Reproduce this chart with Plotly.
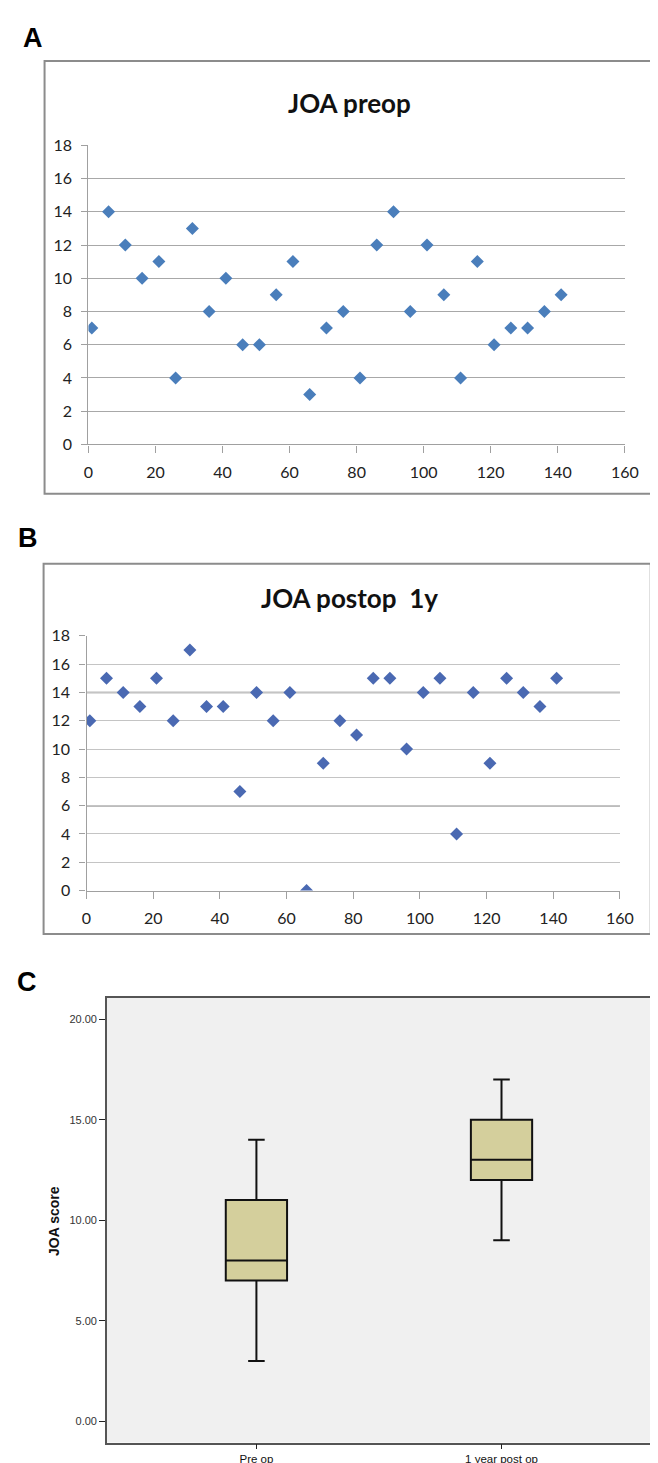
import plotly.graph_objects as go

W, H = 658, 1463

# ---- data ----
patient_x = [1, 6, 11, 16, 21, 26, 31, 36, 41, 46, 51, 56, 61, 66, 71,
             76, 81, 86, 91, 96, 101, 106, 111, 116, 121, 126, 131, 136, 141]
joa_preop = [7, 14, 12, 10, 11, 4, 13, 8, 10, 6, 6, 9, 11, 3, 7,
             8, 4, 12, 14, 8, 12, 9, 4, 11, 6, 7, 7, 8, 9]
joa_postop = [12, 15, 14, 13, 15, 12, 17, 13, 13, 7, 14, 12, 14, 0, 9,
              12, 11, 15, 15, 10, 14, 15, 4, 14, 9, 15, 14, 13, 15]
box_categories = ["Pre op", "1 year post op"]
scatter_x_ticks = [0, 20, 40, 60, 80, 100, 120, 140, 160]
scatter_y_ticks = [0, 2, 4, 6, 8, 10, 12, 14, 16, 18]
box_y_ticks = [0, 5, 10, 15, 20]


def px(x):
    return x / W


def py(y):
    return 1 - y / H


fig = go.Figure()

# Panel A scatter
fig.add_trace(go.Scatter(
    x=patient_x, y=joa_preop, mode="markers", xaxis="x", yaxis="y",
    marker=dict(symbol="diamond", size=10, color="#4A7EBB", line=dict(width=0)),
    showlegend=False))

# Panel B scatter
fig.add_trace(go.Scatter(
    x=patient_x, y=joa_postop, mode="markers", xaxis="x2", yaxis="y2",
    marker=dict(symbol="diamond", size=10, color="#4A69B2", line=dict(width=0)),
    showlegend=False))

# Panel C boxes (Tukey whiskers, outlier points hidden)
for cat, vals in zip(box_categories, [joa_preop, joa_postop]):
    fig.add_trace(go.Box(
        x=[cat] * len(vals), y=vals, xaxis="x3", yaxis="y3",
        boxpoints="outliers", marker=dict(opacity=0, size=1),
        width=0.25, whiskerwidth=0.27,
        fillcolor="#D4CF9C", line=dict(color="#111111", width=2),
        quartilemethod="inclusive", showlegend=False, hoverinfo="skip"))

excel_font = dict(family="Lato, Open Sans, sans-serif", size=16, color="#222222")
spss_font = dict(family="Liberation Sans Narrow, Arial Narrow, Liberation Sans, Arial",
                 size=11, color="#333333")

scatter_x_common = dict(
    range=[0, 160], tickvals=scatter_x_ticks, ticks="outside", ticklen=7,
    tickcolor="#A0A0A0", tickwidth=1.3, showline=True, linecolor="#A0A0A0",
    linewidth=1.3, showgrid=False, zeroline=False, tickfont=excel_font,
    ticklabelstandoff=6, fixedrange=True)
scatter_y_common = dict(
    range=[0, 18], tickvals=scatter_y_ticks, ticks="outside", ticklen=6,
    tickcolor="#A0A0A0", tickwidth=1.3, showline=True, linecolor="#A0A0A0",
    linewidth=1.3, showgrid=True, gridwidth=1.3, zeroline=False,
    tickfont=excel_font, ticklabelstandoff=6, fixedrange=True)

fig.update_layout(
    width=W, height=H,
    margin=dict(l=0, r=0, t=0, b=0),
    paper_bgcolor="white", plot_bgcolor="white",
    showlegend=False,
    xaxis=dict(domain=[px(77.7), px(630)], anchor="y", **scatter_x_common),
    yaxis=dict(domain=[py(432), py(129)], anchor="x", gridcolor="#A8A8A8",
               **scatter_y_common),
    xaxis2=dict(domain=[px(75.7), px(625)], anchor="y2", **scatter_x_common),
    yaxis2=dict(domain=[py(884), py(626)], anchor="x2", gridcolor="#C4C4C4",
                **scatter_y_common),
    xaxis3=dict(domain=[px(96.7), 1.0], anchor="y3", type="category",
                range=[-0.61, 1.614], ticks="outside", ticklen=5,
                tickcolor="#222222", tickwidth=1.3, showline=True, mirror=True,
                linecolor="#555555", linewidth=1.5, showgrid=False,
                tickfont=dict(family=spss_font["family"], size=11.5, color="#111111"),
                ticklabelstandoff=0, fixedrange=True),
    yaxis3=dict(domain=[py(1443.3), py(992.7)], anchor="x3",
                range=[-1.06, 21.06], tickvals=box_y_ticks, tickformat=".2f",
                ticks="outside", ticklen=6, tickcolor="#222222", tickwidth=1.3,
                showline=True, mirror=True, linecolor="#555555", linewidth=1.5,
                showgrid=False, zeroline=False, tickfont=spss_font,
                fixedrange=True),
)

fig.update_layout(shapes=[
    # C panel background
    dict(type="rect", xref="x3 domain", yref="y3 domain", x0=0, x1=1, y0=0, y1=1,
         fillcolor="#F0F0F0", line=dict(width=0), layer="below"),
    # panel frames A and B
    dict(type="rect", xref="paper", yref="paper", x0=px(32.5), x1=1.01,
         y0=py(482), y1=py(43.5), line=dict(color="#8C8C8C", width=2)),
    dict(type="rect", xref="paper", yref="paper", x0=px(31.5), x1=px(656.7),
         y0=py(928), y1=py(553), line=dict(color="#8C8C8C", width=2)),
    # darker gridlines in panel B
    dict(type="line", xref="x2 domain", yref="y2", x0=0, x1=1, y0=14, y1=14,
         line=dict(color="#7A7A7A", width=1.5), layer="below"),
    dict(type="line", xref="x2 domain", yref="y2", x0=0, x1=1, y0=6, y1=6,
         line=dict(color="#7A7A7A", width=1.5), layer="below"),
])

title_font = dict(family="Lato, Open Sans, sans-serif", size=26, color="#111111")
label_font = dict(family="Liberation Sans, Arial, sans-serif", size=27, color="black")

annotations = [
    dict(text="<b>JOA preop</b>", x=px(347), y=py(86), font=title_font),
    dict(text="<b>JOA postop  1y</b>", x=px(346), y=py(588), font=title_font),
    dict(text="<b>A</b>", x=px(21), y=py(20), font=label_font),
    dict(text="<b>B</b>", x=px(15), y=py(526.5), font=label_font),
    dict(text="<b>C</b>", x=px(14.5), y=py(977), font=label_font),
    dict(text="<b>JOA score</b>", x=px(42), y=py(1219), textangle=-90,
         font=dict(family="Liberation Sans, Arial, sans-serif", size=14, color="#111111")),
]
for a in annotations:
    a.update(xref="paper", yref="paper", showarrow=False, xanchor="center",
             yanchor="middle")
fig.update_layout(annotations=annotations)

fig.write_html("out.html")
